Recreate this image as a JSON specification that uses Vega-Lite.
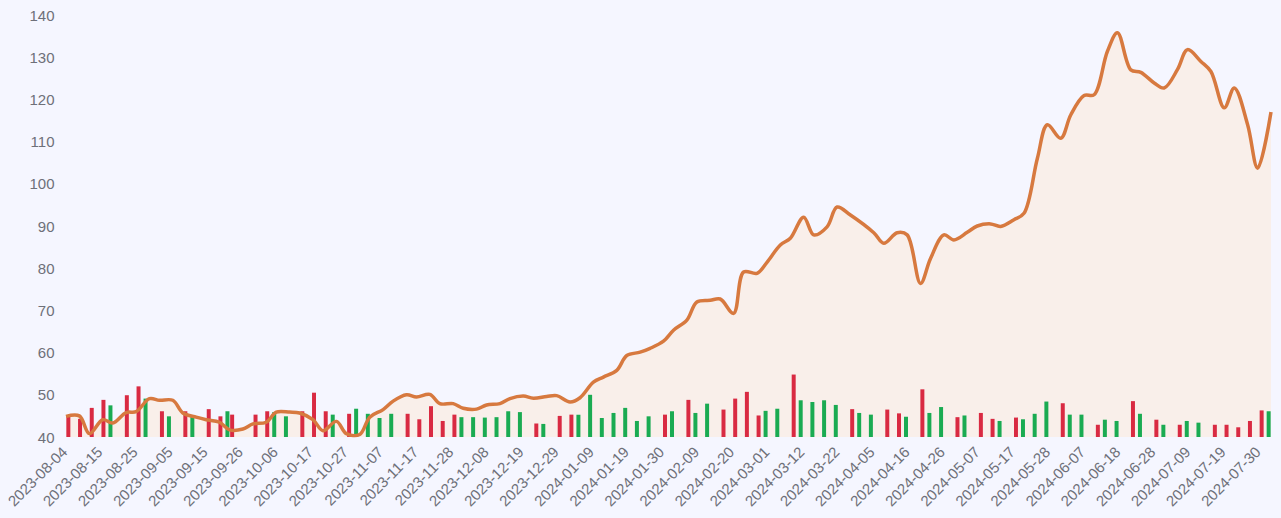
{
  "$schema": "https://vega.github.io/schema/vega-lite/v6.json",
  "width": 1205,
  "height": 422,
  "autosize": {"type": "none"},
  "padding": {"left": 66, "top": 15, "right": 10, "bottom": 81},
  "background": "#f5f6ff",
  "config": {
    "view": {"stroke": null},
    "axis": {"domain": false, "ticks": false, "grid": false, "labelColor": "#6e7079", "labelFont": "Liberation Sans", "labelFontSize": 15}
  },
  "datasets": {
    "prices": [
      {"date": "2023-08-04", "close": 44.9}, {"date": "2023-08-08", "close": 45.0}, {"date": "2023-08-11", "close": 40.8},
      {"date": "2023-08-15", "close": 44.1}, {"date": "2023-08-18", "close": 43.3}, {"date": "2023-08-22", "close": 45.8},
      {"date": "2023-08-25", "close": 46.0}, {"date": "2023-08-29", "close": 49.1}, {"date": "2023-09-01", "close": 48.7},
      {"date": "2023-09-05", "close": 48.7}, {"date": "2023-09-08", "close": 45.7}, {"date": "2023-09-12", "close": 44.7},
      {"date": "2023-09-15", "close": 44.1}, {"date": "2023-09-19", "close": 43.5}, {"date": "2023-09-22", "close": 41.7},
      {"date": "2023-09-26", "close": 41.9}, {"date": "2023-09-29", "close": 43.1}, {"date": "2023-10-03", "close": 43.5},
      {"date": "2023-10-06", "close": 45.9}, {"date": "2023-10-10", "close": 45.9}, {"date": "2023-10-13", "close": 45.7},
      {"date": "2023-10-17", "close": 44.1}, {"date": "2023-10-20", "close": 41.5}, {"date": "2023-10-24", "close": 43.7},
      {"date": "2023-10-27", "close": 40.8}, {"date": "2023-10-31", "close": 40.6}, {"date": "2023-11-03", "close": 44.7},
      {"date": "2023-11-07", "close": 46.5}, {"date": "2023-11-10", "close": 48.5}, {"date": "2023-11-14", "close": 50.0},
      {"date": "2023-11-17", "close": 49.5}, {"date": "2023-11-21", "close": 50.1}, {"date": "2023-11-24", "close": 47.9},
      {"date": "2023-11-28", "close": 47.9}, {"date": "2023-12-01", "close": 46.8}, {"date": "2023-12-05", "close": 46.6},
      {"date": "2023-12-08", "close": 47.6}, {"date": "2023-12-12", "close": 47.9}, {"date": "2023-12-15", "close": 49.1},
      {"date": "2023-12-19", "close": 49.7}, {"date": "2023-12-22", "close": 49.2}, {"date": "2023-12-26", "close": 49.6},
      {"date": "2023-12-29", "close": 49.8}, {"date": "2024-01-02", "close": 48.3}, {"date": "2024-01-05", "close": 49.3},
      {"date": "2024-01-09", "close": 53.0}, {"date": "2024-01-12", "close": 54.2}, {"date": "2024-01-16", "close": 55.8},
      {"date": "2024-01-19", "close": 59.3}, {"date": "2024-01-23", "close": 60.1}, {"date": "2024-01-26", "close": 61.0},
      {"date": "2024-01-30", "close": 62.7}, {"date": "2024-02-02", "close": 65.3}, {"date": "2024-02-06", "close": 67.7},
      {"date": "2024-02-09", "close": 72.0}, {"date": "2024-02-13", "close": 72.4}, {"date": "2024-02-16", "close": 72.7},
      {"date": "2024-02-20", "close": 69.3}, {"date": "2024-02-23", "close": 79.1}, {"date": "2024-02-27", "close": 78.8},
      {"date": "2024-03-01", "close": 81.4}, {"date": "2024-03-05", "close": 85.5}, {"date": "2024-03-08", "close": 87.1},
      {"date": "2024-03-12", "close": 92.1}, {"date": "2024-03-15", "close": 87.9}, {"date": "2024-03-19", "close": 89.8},
      {"date": "2024-03-22", "close": 94.5}, {"date": "2024-03-26", "close": 92.6}, {"date": "2024-04-02", "close": 88.4},
      {"date": "2024-04-05", "close": 85.9}, {"date": "2024-04-09", "close": 88.4}, {"date": "2024-04-12", "close": 87.9},
      {"date": "2024-04-16", "close": 76.4}, {"date": "2024-04-19", "close": 82.3}, {"date": "2024-04-23", "close": 87.9},
      {"date": "2024-04-26", "close": 86.7}, {"date": "2024-04-30", "close": 88.5}, {"date": "2024-05-03", "close": 90.0},
      {"date": "2024-05-07", "close": 90.5}, {"date": "2024-05-10", "close": 89.9}, {"date": "2024-05-14", "close": 91.5},
      {"date": "2024-05-17", "close": 93.0}, {"date": "2024-05-21", "close": 106.0}, {"date": "2024-05-24", "close": 114.0},
      {"date": "2024-05-28", "close": 110.8}, {"date": "2024-05-31", "close": 116.3}, {"date": "2024-06-04", "close": 120.9},
      {"date": "2024-06-07", "close": 121.1}, {"date": "2024-06-11", "close": 131.4}, {"date": "2024-06-14", "close": 135.8},
      {"date": "2024-06-18", "close": 127.0}, {"date": "2024-06-21", "close": 126.4}, {"date": "2024-06-25", "close": 123.9},
      {"date": "2024-06-28", "close": 122.7}, {"date": "2024-07-02", "close": 127.1}, {"date": "2024-07-05", "close": 131.8},
      {"date": "2024-07-09", "close": 129.0}, {"date": "2024-07-12", "close": 126.6}, {"date": "2024-07-16", "close": 118.0},
      {"date": "2024-07-19", "close": 122.7}, {"date": "2024-07-23", "close": 114.0}, {"date": "2024-07-26", "close": 103.7},
      {"date": "2024-07-30", "close": 117.0}
    ],
    "volumes": [
      {"day": "2023-08-04", "down": 45.1}, {"day": "2023-08-08", "down": 44.3}, {"day": "2023-08-11", "down": 46.9},
      {"day": "2023-08-15", "down": 48.8, "up": 47.5}, {"day": "2023-08-18"}, {"day": "2023-08-22", "down": 49.9},
      {"day": "2023-08-25", "down": 52.0, "up": 49.1}, {"day": "2023-08-29"}, {"day": "2023-09-01", "down": 46.1, "up": 44.9},
      {"day": "2023-09-05"}, {"day": "2023-09-08", "down": 46.1, "up": 45.1}, {"day": "2023-09-12"},
      {"day": "2023-09-15", "down": 46.6}, {"day": "2023-09-19", "down": 44.9, "up": 46.1}, {"day": "2023-09-22", "down": 45.3},
      {"day": "2023-09-26"}, {"day": "2023-09-29", "down": 45.3}, {"day": "2023-10-03", "down": 46.1, "up": 45.9},
      {"day": "2023-10-06", "up": 44.9}, {"day": "2023-10-10"}, {"day": "2023-10-13", "down": 46.1},
      {"day": "2023-10-17", "down": 50.5}, {"day": "2023-10-20", "down": 46.1, "up": 45.3}, {"day": "2023-10-24"},
      {"day": "2023-10-27", "down": 45.5, "up": 46.7}, {"day": "2023-10-31", "up": 45.5}, {"day": "2023-11-03", "up": 44.5},
      {"day": "2023-11-07", "up": 45.5}, {"day": "2023-11-10"}, {"day": "2023-11-14", "down": 45.5},
      {"day": "2023-11-17", "down": 44.2}, {"day": "2023-11-21", "down": 47.3}, {"day": "2023-11-24", "down": 43.8},
      {"day": "2023-11-28", "down": 45.3, "up": 44.7}, {"day": "2023-12-01", "up": 44.7}, {"day": "2023-12-05", "up": 44.6},
      {"day": "2023-12-08", "up": 44.7}, {"day": "2023-12-12", "up": 46.1}, {"day": "2023-12-15", "up": 45.9},
      {"day": "2023-12-19"}, {"day": "2023-12-22", "down": 43.2, "up": 43.1}, {"day": "2023-12-26"},
      {"day": "2023-12-29", "down": 45.0}, {"day": "2024-01-02", "down": 45.3, "up": 45.3}, {"day": "2024-01-05", "up": 50.0},
      {"day": "2024-01-09", "up": 44.5}, {"day": "2024-01-12", "up": 45.7}, {"day": "2024-01-16", "up": 46.9},
      {"day": "2024-01-19", "up": 43.8}, {"day": "2024-01-23", "up": 44.9}, {"day": "2024-01-26"},
      {"day": "2024-01-30", "down": 45.3, "up": 46.1}, {"day": "2024-02-02"}, {"day": "2024-02-06", "down": 48.8, "up": 45.7},
      {"day": "2024-02-09", "up": 47.9}, {"day": "2024-02-13"}, {"day": "2024-02-16", "down": 46.5},
      {"day": "2024-02-20", "down": 49.1}, {"day": "2024-02-23", "down": 50.7}, {"day": "2024-02-27", "down": 45.1, "up": 46.2},
      {"day": "2024-03-01", "up": 46.7}, {"day": "2024-03-05"}, {"day": "2024-03-08", "down": 54.8, "up": 48.7},
      {"day": "2024-03-12", "up": 48.3}, {"day": "2024-03-15", "up": 48.7}, {"day": "2024-03-19", "up": 47.6},
      {"day": "2024-03-22"}, {"day": "2024-03-26", "down": 46.6, "up": 45.7}, {"day": "2024-04-02", "up": 45.3},
      {"day": "2024-04-05"}, {"day": "2024-04-09", "down": 46.5}, {"day": "2024-04-12", "down": 45.6, "up": 44.8},
      {"day": "2024-04-16"}, {"day": "2024-04-19", "down": 51.3, "up": 45.7}, {"day": "2024-04-23", "up": 47.1},
      {"day": "2024-04-26"}, {"day": "2024-04-30", "down": 44.7, "up": 45.1}, {"day": "2024-05-03"},
      {"day": "2024-05-07", "down": 45.7}, {"day": "2024-05-10", "down": 44.3, "up": 43.8}, {"day": "2024-05-14"},
      {"day": "2024-05-17", "down": 44.6, "up": 44.2}, {"day": "2024-05-21", "up": 45.5}, {"day": "2024-05-24", "up": 48.4},
      {"day": "2024-05-28"}, {"day": "2024-05-31", "down": 48.0, "up": 45.3}, {"day": "2024-06-04", "up": 45.3},
      {"day": "2024-06-07"}, {"day": "2024-06-11", "down": 42.9, "up": 44.1}, {"day": "2024-06-14", "up": 43.8},
      {"day": "2024-06-18"}, {"day": "2024-06-21", "down": 48.5, "up": 45.5}, {"day": "2024-06-25"},
      {"day": "2024-06-28", "down": 44.1, "up": 42.9}, {"day": "2024-07-02"}, {"day": "2024-07-05", "down": 42.9, "up": 43.8},
      {"day": "2024-07-09", "up": 43.4}, {"day": "2024-07-12"}, {"day": "2024-07-16", "down": 42.9},
      {"day": "2024-07-19", "down": 42.9}, {"day": "2024-07-23", "down": 42.3}, {"day": "2024-07-26", "down": 43.8},
      {"day": "2024-07-30", "down": 46.3, "up": 46.1}
    ]
  },
  "layer": [
    {
      "data": {"name": "prices"},
      "mark": {"type": "area", "interpolate": "catmull-rom", "color": "#f9efea"},
      "encoding": {
        "x": {"field": "date", "type": "temporal", "scale": {"nice": false}, "axis": null},
        "y": {"field": "close", "type": "quantitative", "title": null,
              "scale": {"domain": [40, 140], "nice": false, "zero": false},
              "axis": {"values": [40, 50, 60, 70, 80, 90, 100, 110, 120, 130, 140], "labelPadding": 12}},
        "y2": {"datum": 40}
      }
    },
    {
      "data": {"name": "volumes"},
      "transform": [
        {"fold": ["down", "up"], "as": ["dir", "vol"]},
        {"filter": "datum.vol != null"}
      ],
      "mark": {"type": "bar"},
      "encoding": {
        "x": {"field": "day", "type": "ordinal", "title": null,
              "scale": {"paddingInner": 0, "paddingOuter": 0,
                        "domain": ["2023-08-04","2023-08-08","2023-08-11","2023-08-15","2023-08-18","2023-08-22","2023-08-25","2023-08-29","2023-09-01","2023-09-05","2023-09-08","2023-09-12","2023-09-15","2023-09-19","2023-09-22","2023-09-26","2023-09-29","2023-10-03","2023-10-06","2023-10-10","2023-10-13","2023-10-17","2023-10-20","2023-10-24","2023-10-27","2023-10-31","2023-11-03","2023-11-07","2023-11-10","2023-11-14","2023-11-17","2023-11-21","2023-11-24","2023-11-28","2023-12-01","2023-12-05","2023-12-08","2023-12-12","2023-12-15","2023-12-19","2023-12-22","2023-12-26","2023-12-29","2024-01-02","2024-01-05","2024-01-09","2024-01-12","2024-01-16","2024-01-19","2024-01-23","2024-01-26","2024-01-30","2024-02-02","2024-02-06","2024-02-09","2024-02-13","2024-02-16","2024-02-20","2024-02-23","2024-02-27","2024-03-01","2024-03-05","2024-03-08","2024-03-12","2024-03-15","2024-03-19","2024-03-22","2024-03-26","2024-04-02","2024-04-05","2024-04-09","2024-04-12","2024-04-16","2024-04-19","2024-04-23","2024-04-26","2024-04-30","2024-05-03","2024-05-07","2024-05-10","2024-05-14","2024-05-17","2024-05-21","2024-05-24","2024-05-28","2024-05-31","2024-06-04","2024-06-07","2024-06-11","2024-06-14","2024-06-18","2024-06-21","2024-06-25","2024-06-28","2024-07-02","2024-07-05","2024-07-09","2024-07-12","2024-07-16","2024-07-19","2024-07-23","2024-07-26","2024-07-30"]},
              "axis": {"values": ["2023-08-04","2023-08-15","2023-08-25","2023-09-05","2023-09-15","2023-09-26","2023-10-06","2023-10-17","2023-10-27","2023-11-07","2023-11-17","2023-11-28","2023-12-08","2023-12-19","2023-12-29","2024-01-09","2024-01-19","2024-01-30","2024-02-09","2024-02-20","2024-03-01","2024-03-12","2024-03-22","2024-04-05","2024-04-16","2024-04-26","2024-05-07","2024-05-17","2024-05-28","2024-06-07","2024-06-18","2024-06-28","2024-07-09","2024-07-19","2024-07-30"],
                       "labelAngle": -45, "labelAlign": "right", "labelBaseline": "middle", "labelPadding": 12, "labelOffset": -7, "labelFontSize": 15, "labelOverlap": false}},
        "xOffset": {"field": "dir", "type": "nominal", "scale": {"domain": ["down", "up"], "paddingInner": 0.43, "paddingOuter": 0.05}},
        "y": {"field": "vol", "type": "quantitative", "title": null, "scale": {"domain": [40, 140], "nice": false, "zero": false}},
        "y2": {"datum": 40},
        "color": {"field": "dir", "type": "nominal", "legend": null, "scale": {"domain": ["down", "up"], "range": ["#d92a42", "#1aab52"]}}
      }
    },
    {
      "data": {"name": "prices"},
      "mark": {"type": "line", "interpolate": "catmull-rom", "color": "#d7793f", "strokeWidth": 3.5},
      "encoding": {
        "x": {"field": "date", "type": "temporal", "scale": {"nice": false}, "axis": null},
        "y": {"field": "close", "type": "quantitative", "title": null, "scale": {"domain": [40, 140], "nice": false, "zero": false}}
      }
    }
  ],
  "resolve": {"scale": {"x": "independent"}}
}
